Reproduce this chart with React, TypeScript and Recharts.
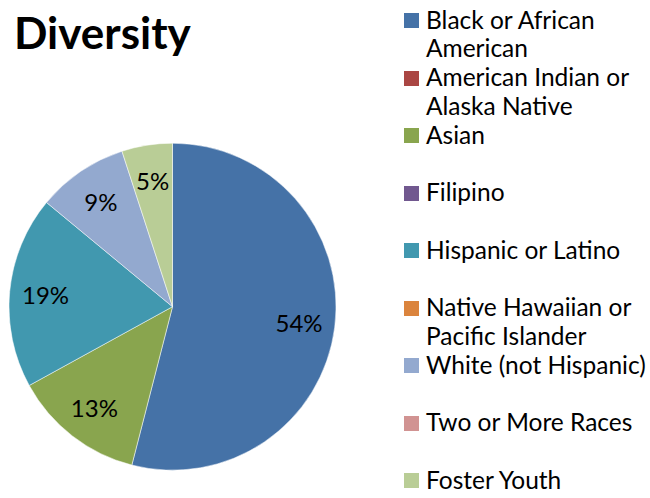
import React from "react";
import { PieChart, Pie, Cell, Legend } from "recharts";

const categories = [
  "Black or African American",
  "American Indian or Alaska Native",
  "Asian",
  "Filipino",
  "Hispanic or Latino",
  "Native Hawaiian or Pacific Islander",
  "White (not Hispanic)",
  "Two or More Races",
  "Foster Youth",
];
const values = [54, 0, 13, 0, 19, 0, 9, 0, 5];
const colors = [
  "#4572A7",
  "#AA4643",
  "#89A54E",
  "#71588F",
  "#4198AF",
  "#DB843D",
  "#93A9CF",
  "#D19392",
  "#B9CD96",
];

const data = categories.map((name, i) => ({ name, value: values[i] }));

const FONT = "Lato, 'Liberation Sans', sans-serif";
const RADIAN = Math.PI / 180;

const renderLabel = (props: any) => {
  const { cx, cy, midAngle, outerRadius, value } = props;
  if (!value) return null;
  const r = outerRadius * 0.78;
  const x = cx + r * Math.cos(-midAngle * RADIAN);
  const y = cy + r * Math.sin(-midAngle * RADIAN);
  return (
    <text
      x={x}
      y={y}
      textAnchor="middle"
      dominantBaseline="central"
      fill="#000"
      style={{ fontFamily: FONT, fontSize: 24 }}
    >
      {`${value}%`}
    </text>
  );
};

const renderLegend = (props: any) => {
  const payload = [...(props.payload || [])].sort(
    (a: any, b: any) => categories.indexOf(a.value) - categories.indexOf(b.value)
  );
  return (
    <div style={{ fontFamily: FONT, fontSize: 24.5, color: "#000" }}>
      {payload.map((entry: any, i: number) => (
        <div
          key={i}
          style={{ height: 57.5, display: "flex", alignItems: "flex-start" }}
        >
          <div
            style={{
              width: 15,
              height: 15,
              background: entry.color,
              marginTop: 7.25,
              marginRight: 7,
              flex: "0 0 auto",
            }}
          />
          <div style={{ width: 228, lineHeight: "28.5px", whiteSpace: "normal" }}>
            {entry.value}
          </div>
        </div>
      ))}
    </div>
  );
};

export default function App() {
  return (
    <div
      style={{
        position: "absolute",
        left: 0,
        top: 0,
        width: 650,
        height: 498,
        background: "#fff",
      }}
    >
      <div
        style={{
          position: "absolute",
          left: 14,
          top: 2,
          fontFamily: FONT,
          fontWeight: 700,
          fontSize: 44,
          lineHeight: "60px",
          color: "#000",
        }}
      >
        Diversity
      </div>
      <PieChart
        width={650}
        height={498}
        margin={{ top: 0, right: 0, bottom: 0, left: 0 }}
        style={{ position: "absolute", left: 0, top: 0 }}
      >
        <Pie
          data={data}
          dataKey="value"
          nameKey="name"
          cx={172.5}
          cy={306.7}
          outerRadius={163.5}
          startAngle={90}
          endAngle={-270}
          stroke="#ffffff"
          strokeWidth={0.5}
          label={renderLabel}
          labelLine={false}
          isAnimationActive={false}
        >
          {data.map((d, i) => (
            <Cell key={d.name} fill={colors[i]} />
          ))}
        </Pie>
        <Legend
          content={renderLegend}
          layout="vertical"
          align="right"
          verticalAlign="top"
          itemSorter={null as any}
          wrapperStyle={{ position: "absolute", left: 404, top: 5.75, width: 246 }}
        />
      </PieChart>
    </div>
  );
}
